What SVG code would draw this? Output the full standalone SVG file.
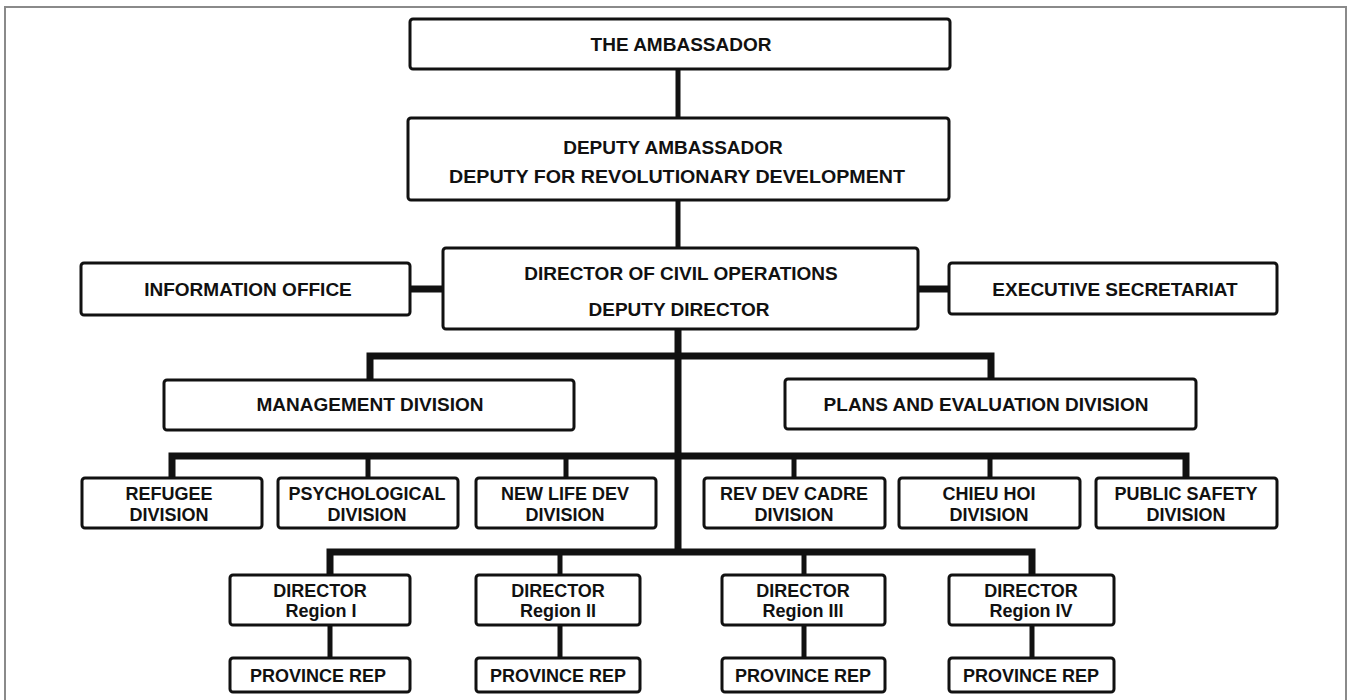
<svg xmlns="http://www.w3.org/2000/svg" width="1351" height="700" viewBox="0 0 1351 700">
<style>
.bx{fill:#fff;stroke:#111;stroke-width:3}
.t{font-family:"Liberation Sans",Arial,sans-serif;font-weight:bold;fill:#111;text-anchor:middle}
.l{font-size:19px}
.s{font-size:18px}
.c{stroke:#111;fill:none;stroke-linecap:butt;stroke-linejoin:miter}
.c5{stroke-width:5}
.c7{stroke-width:7}
</style>
<rect x="0" y="0" width="1351" height="700" fill="#fff"/>
<rect x="5" y="7" width="1341" height="705" fill="none" stroke="#8a8a8a" stroke-width="2"/>
<g id="connectors">
<path class="c c5" d="M678 69V118M678 200V248"/>
<path class="c c7" d="M410 289H443M918 289H949"/>
<path class="c c7" d="M678 329V553"/>
<path class="c c7" d="M370 380V356H991V379"/>
<path class="c c7" d="M172 478V456H1186V478"/>
<path class="c c5" d="M368 456V478M566 456V478M794 456V478M990 456V478"/>
<path class="c c7" d="M330 575V552H1032V575"/>
<path class="c c5" d="M560 552V575M804 552V575"/>
<path class="c c5" d="M330 625V658M560 625V658M804 625V658M1032 625V658"/>
</g>
<g id="ambassador"><rect class="bx" x="410" y="19" width="540" height="50" rx="3"/><text class="t l" x="681" y="51">THE AMBASSADOR</text></g>
<g id="deputy"><rect class="bx" x="408" y="118" width="541" height="82" rx="3"/><text class="t l" x="673" y="154">DEPUTY AMBASSADOR</text><text class="t l" x="677" y="183" textLength="456" lengthAdjust="spacingAndGlyphs">DEPUTY FOR REVOLUTIONARY DEVELOPMENT</text></g>
<g id="director"><rect class="bx" x="443" y="248" width="475" height="81" rx="3"/><text class="t l" x="681" y="280">DIRECTOR OF CIVIL OPERATIONS</text><text class="t l" x="679" y="316">DEPUTY DIRECTOR</text></g>
<g id="info"><rect class="bx" x="81" y="263" width="329" height="52" rx="3"/><text class="t l" x="248" y="296">INFORMATION OFFICE</text></g>
<g id="exec"><rect class="bx" x="949" y="263" width="328" height="51" rx="3"/><text class="t l" x="1115" y="296">EXECUTIVE SECRETARIAT</text></g>
<g id="mgmt"><rect class="bx" x="164" y="380" width="410" height="50" rx="3"/><text class="t l" x="370" y="411">MANAGEMENT DIVISION</text></g>
<g id="plans"><rect class="bx" x="785" y="379" width="411" height="50" rx="3"/><text class="t l" x="986" y="411">PLANS AND EVALUATION DIVISION</text></g>
<g id="refugee"><rect class="bx" x="82" y="478" width="180" height="50" rx="3"/><text class="t s" x="169" y="500">REFUGEE</text><text class="t s" x="169" y="521">DIVISION</text></g>
<g id="psych"><rect class="bx" x="278" y="478" width="180" height="50" rx="3"/><text class="t s" x="367" y="500">PSYCHOLOGICAL</text><text class="t s" x="367" y="521">DIVISION</text></g>
<g id="newlife"><rect class="bx" x="476" y="478" width="180" height="50" rx="3"/><text class="t s" x="565" y="500">NEW LIFE DEV</text><text class="t s" x="565" y="521">DIVISION</text></g>
<g id="revdev"><rect class="bx" x="704" y="478" width="181" height="50" rx="3"/><text class="t s" x="794" y="500">REV DEV CADRE</text><text class="t s" x="794" y="521">DIVISION</text></g>
<g id="chieuhoi"><rect class="bx" x="899" y="478" width="181" height="50" rx="3"/><text class="t s" x="989" y="500">CHIEU HOI</text><text class="t s" x="989" y="521">DIVISION</text></g>
<g id="publicsafety"><rect class="bx" x="1096" y="478" width="181" height="50" rx="3"/><text class="t s" x="1186" y="500">PUBLIC SAFETY</text><text class="t s" x="1186" y="521">DIVISION</text></g>
<g id="region1"><rect class="bx" x="230" y="575" width="180" height="50" rx="3"/><text class="t s" x="320" y="597">DIRECTOR</text><text class="t s" x="321" y="617">Region I</text></g>
<g id="region2"><rect class="bx" x="476" y="575" width="164" height="50" rx="3"/><text class="t s" x="558" y="597">DIRECTOR</text><text class="t s" x="558" y="617">Region II</text></g>
<g id="region3"><rect class="bx" x="722" y="575" width="163" height="50" rx="3"/><text class="t s" x="803" y="597">DIRECTOR</text><text class="t s" x="803" y="617">Region III</text></g>
<g id="region4"><rect class="bx" x="949" y="575" width="165" height="50" rx="3"/><text class="t s" x="1031" y="597">DIRECTOR</text><text class="t s" x="1031" y="617">Region IV</text></g>
<g id="prov1"><rect class="bx" x="230" y="658" width="180" height="34" rx="3"/><text class="t s" x="318" y="682">PROVINCE REP</text></g>
<g id="prov2"><rect class="bx" x="476" y="658" width="164" height="34" rx="3"/><text class="t s" x="558" y="682">PROVINCE REP</text></g>
<g id="prov3"><rect class="bx" x="722" y="658" width="163" height="34" rx="3"/><text class="t s" x="803" y="682">PROVINCE REP</text></g>
<g id="prov4"><rect class="bx" x="949" y="658" width="165" height="34" rx="3"/><text class="t s" x="1031" y="682">PROVINCE REP</text></g>
</svg>
